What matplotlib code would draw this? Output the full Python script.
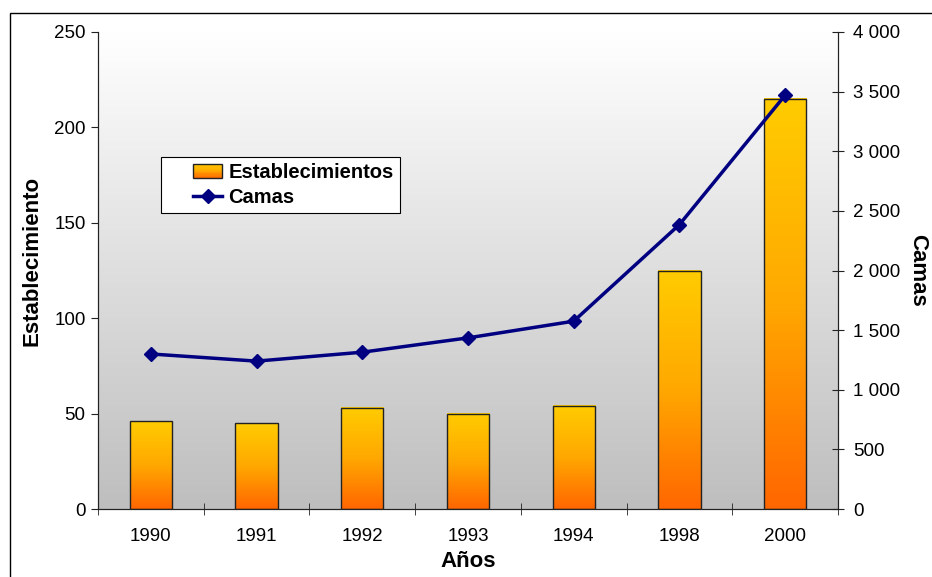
import numpy as np
import matplotlib
matplotlib.use("Agg")
import matplotlib.pyplot as plt
from matplotlib.patches import Rectangle
from matplotlib.lines import Line2D
from matplotlib.legend_handler import HandlerBase
from matplotlib.ticker import FuncFormatter, FixedLocator
from matplotlib.colors import LinearSegmentedColormap

plt.rcParams['font.family'] = ['Liberation Sans', 'DejaVu Sans']

years = ['1990', '1991', '1992', '1993', '1994', '1998', '2000']
establecimientos = [46, 45, 53, 50, 54, 125, 215]
camas = [1300, 1240, 1315, 1435, 1575, 2385, 3470]

bar_cmap = LinearSegmentedColormap.from_list('bar', [(0, '#FF6600'), (0.5, '#FFA800'), (1, '#FFCC00')])
bg_cmap = LinearSegmentedColormap.from_list('bg', ['#BEBEBE', '#FFFFFF'])

fig = plt.figure(figsize=(9.32, 5.77), dpi=100)
ax = fig.add_axes([98/932, 1-509/577, 740/932, 477/577])
ax2 = ax.twinx()

x = np.arange(len(years))
w = 0.4

# background gradient
grad = np.linspace(0, 1, 256).reshape(-1, 1)
ax.imshow(grad, cmap=bg_cmap, origin='lower', extent=[-0.5, 6.5, 0, 250],
          aspect='auto', zorder=0)

bars = ax.bar(x, establecimientos, width=w, facecolor='none', edgecolor='#222222',
              linewidth=1.0, zorder=3)
for b in bars:
    x0, y0 = b.get_x(), b.get_y()
    ax.imshow(grad, cmap=bar_cmap, origin='lower',
              extent=[x0, x0 + b.get_width(), y0, y0 + b.get_height()],
              aspect='auto', zorder=2)

ax.set_xlim(-0.5, 6.5)
ax.set_ylim(0, 250)
ax2.set_ylim(0, 4000)

ax2.plot(x, camas, color='#000080', linewidth=2.5, marker='D', markersize=7.5,
         markerfacecolor='#000080', markeredgecolor='#000080', zorder=5)

# ticks
ax.set_xticks(x)
ax.set_xticklabels(years, fontsize=13.5)
ax.xaxis.set_minor_locator(FixedLocator(np.arange(-0.5, 7, 1.0)))
ax.tick_params(axis='x', which='major', length=0, pad=14)
ax.tick_params(axis='x', which='minor', length=8, direction='inout', color='#222222')
ax.set_yticks(np.arange(0, 251, 50))
ax.tick_params(axis='y', labelsize=13.5, length=5, direction='out', color='#222222', pad=4)
ax2.set_yticks(np.arange(0, 4001, 500))
ax2.yaxis.set_major_formatter(FuncFormatter(lambda v, p: f"{int(v):,}".replace(',', ' ')))
ax2.tick_params(axis='y', labelsize=13.5, length=8, direction='inout', color='#222222', pad=7)

for a in (ax, ax2):
    a.spines['top'].set_visible(False)
    for s in ('left', 'right', 'bottom'):
        a.spines[s].set_color('#222222')

ax.set_ylabel('Establecimiento', fontsize=16, fontweight='bold')
ax.yaxis.set_label_coords(-0.075, 0.52)
ax2.set_ylabel('Camas', fontsize=16, fontweight='bold', rotation=270, labelpad=20)
ax.set_xlabel('Años', fontsize=16, fontweight='bold', labelpad=4)

OFFSET = 19  # px of blank space before the handle drawing


class GradientHandler(HandlerBase):
    def create_artists(self, legend, orig_handle, xdescent, ydescent, width, height, fontsize, trans):
        arts = []
        n = 12
        x0 = -xdescent + OFFSET
        wd = width - OFFSET
        for i in range(n):
            t = (i + 0.5) / n
            r = Rectangle((x0, -ydescent + height * i / n), wd, height / n + 0.3,
                          facecolor=bar_cmap(t), edgecolor='none', transform=trans)
            arts.append(r)
        arts.append(Rectangle((x0, -ydescent), wd, height, facecolor='none',
                              edgecolor='#222222', linewidth=1.0, transform=trans))
        return arts


class LineHandler(HandlerBase):
    def create_artists(self, legend, orig_handle, xdescent, ydescent, width, height, fontsize, trans):
        x0 = -xdescent + OFFSET
        x1 = -xdescent + width
        yc = -ydescent + height / 2
        ln = Line2D([x0, x1], [yc, yc], color='#000080', linewidth=2.5, transform=trans)
        mk = Line2D([(x0 + x1) / 2], [yc], color='#000080', marker='D', markersize=7.5,
                    linestyle='none', transform=trans)
        return [ln, mk]


bar_handle = Rectangle((0, 0), 1, 1)
line_handle = Line2D([], [])
leg = ax2.legend([bar_handle, line_handle], ['Establecimientos', 'Camas'],
                 handler_map={bar_handle: GradientHandler(), line_handle: LineHandler()},
                 loc='upper left', bbox_to_anchor=(0.085, 0.738), frameon=True,
                 fancybox=False, edgecolor='black', framealpha=1, facecolor='white',
                 prop={'weight': 'bold', 'size': 14.5}, handlelength=2.75,
                 borderpad=0.3, labelspacing=0.3, handletextpad=0.3, borderaxespad=0)
leg.get_frame().set_linewidth(0.8)

# outer chart border
fig.patches.append(Rectangle((10/932, -0.01), 1.0, 1 - 13/577 + 0.01, transform=fig.transFigure,
                             facecolor='none', edgecolor='black', linewidth=1.0))

fig.savefig('out.png', dpi=100)
